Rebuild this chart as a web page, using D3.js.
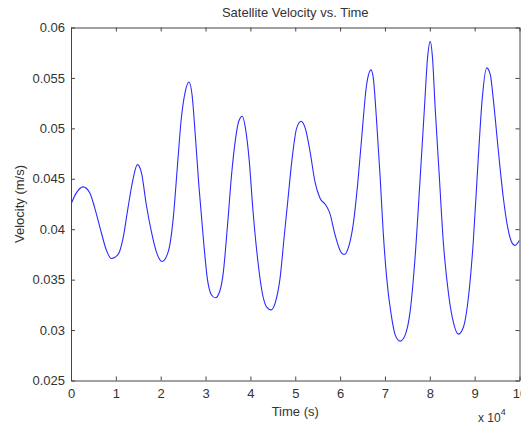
<!DOCTYPE html>
<html>
<head>
<meta charset="utf-8">
<script src="https://cdn.jsdelivr.net/npm/d3@7"></script>
<style>
  html, body { margin: 0; padding: 0; background: #fff; }
  svg { display: block; font-family: "Liberation Sans", Arial, sans-serif; }
</style>
</head>
<body>
<svg id="chart" width="521" height="425"></svg>
<script>
// time in units of 1e4 s
const timeValues = [
    0, 0.12, 0.27, 0.42, 0.53, 0.68, 0.79, 0.90, 1.05, 1.16,
    1.27, 1.38, 1.48, 1.57, 1.68, 1.79, 1.90, 2.03, 2.17, 2.28,
    2.37, 2.46, 2.55, 2.63, 2.70, 2.77, 2.85, 2.95, 3.04, 3.13,
    3.22, 3.32, 3.39, 3.49, 3.58, 3.67, 3.74, 3.82, 3.89, 3.97,
    4.06, 4.16, 4.26, 4.36, 4.46, 4.56, 4.66, 4.75, 4.84, 4.93,
    5.03, 5.13, 5.23, 5.33, 5.44, 5.55, 5.68, 5.77, 5.89, 6.00,
    6.09, 6.20, 6.29, 6.39, 6.48, 6.59, 6.69, 6.74, 6.81, 6.89,
    6.96, 7.04, 7.14, 7.23, 7.34, 7.45, 7.56, 7.67, 7.78, 7.88,
    7.95, 8.01, 8.06, 8.12, 8.21, 8.30, 8.42, 8.53, 8.64, 8.75,
    8.86, 8.97, 9.08, 9.17, 9.27, 9.35, 9.42, 9.53, 9.64, 9.74,
    9.84, 9.90, 10.0
];

// velocity (m/s)
const velocityValues = [
    0.0425, 0.0436, 0.0442, 0.0436, 0.0421, 0.0396, 0.0379, 0.0371, 0.0375, 0.0391,
    0.0421, 0.0449, 0.0464, 0.0456, 0.0424, 0.0398, 0.0378, 0.0368, 0.0378, 0.0411,
    0.0461, 0.0510, 0.0537, 0.0546, 0.0533, 0.0494, 0.0444, 0.0391, 0.0351, 0.0335,
    0.0332, 0.0339, 0.0355, 0.0404, 0.0454, 0.0490, 0.0507, 0.0512, 0.0500, 0.0470,
    0.0417, 0.0371, 0.0338, 0.0323, 0.0320, 0.0328, 0.0351, 0.0391, 0.0431, 0.0470,
    0.0500, 0.0507, 0.0499, 0.0477, 0.0447, 0.0431, 0.0424, 0.0416, 0.0394, 0.0379,
    0.0375, 0.0384, 0.0404, 0.0444, 0.0490, 0.0543, 0.0558, 0.0550, 0.0510, 0.0454,
    0.0398, 0.0351, 0.0315, 0.0295, 0.0289, 0.0295, 0.0318, 0.0371, 0.0447, 0.0520,
    0.0570, 0.0586, 0.0570, 0.0520, 0.0454, 0.0388, 0.0335, 0.0307, 0.0296, 0.0303,
    0.0332, 0.0388, 0.0470, 0.0530, 0.0560, 0.0553, 0.0527, 0.0477, 0.0431, 0.0401,
    0.0386, 0.0384, 0.0389
];

const xTicks = [0, 1, 2, 3, 4, 5, 6, 7, 8, 9, 10];
const yTicks = [0.025, 0.03, 0.035, 0.04, 0.045, 0.05, 0.055, 0.06];
const yTickLabels = ['0.025', '0.03', '0.035', '0.04', '0.045', '0.05', '0.055', '0.06'];

const svg = d3.select('#chart');
const margin = { top: 27.5, right: 1.5, bottom: 44.5, left: 71 };
const width = 521, height = 425;
const axisColor = '#444';
const textColor = '#333';

const x = d3.scaleLinear()
    .domain([0, 10])
    .range([margin.left, width - margin.right]);

const y = d3.scaleLinear()
    .domain([0.025, 0.06])
    .range([height - margin.bottom, margin.top]);

// clip for the line
svg.append('clipPath')
    .attr('id', 'plot-clip')
    .append('rect')
    .attr('x', margin.left)
    .attr('y', margin.top)
    .attr('width', x(10) - x(0))
    .attr('height', y(0.025) - y(0.06));

const points = timeValues.map((t, i) => [t, velocityValues[i]]);

const line = d3.line()
    .x(d => x(d[0]))
    .y(d => y(d[1]))
    .curve(d3.curveMonotoneX);

svg.append('path')
    .datum(points)
    .attr('clip-path', 'url(#plot-clip)')
    .attr('fill', 'none')
    .attr('stroke', '#2b2bff')
    .attr('stroke-width', 1.1)
    .attr('d', line);

// axes: bottom/left with labels, top/right ticks only (inward)
const tickLen = 4;

const xAxis = svg.append('g')
    .attr('transform', `translate(0, ${y(0.025)})`)
    .call(d3.axisBottom(x).tickValues(xTicks).tickSizeInner(-tickLen).tickSizeOuter(0).tickPadding(8).tickFormat(d3.format('d')));

const xAxisTop = svg.append('g')
    .attr('transform', `translate(0, ${y(0.06)})`)
    .call(d3.axisTop(x).tickValues(xTicks).tickSizeInner(-tickLen).tickSizeOuter(0).tickFormat(''));

const yAxis = svg.append('g')
    .attr('transform', `translate(${x(0)}, 0)`)
    .call(d3.axisLeft(y).tickValues(yTicks).tickSizeInner(-tickLen).tickSizeOuter(0).tickPadding(6)
        .tickFormat((d, i) => yTickLabels[i]));

const yAxisRight = svg.append('g')
    .attr('transform', `translate(${x(10)}, 0)`)
    .call(d3.axisRight(y).tickValues(yTicks).tickSizeInner(-tickLen).tickSizeOuter(0).tickFormat(''));

[xAxis, xAxisTop, yAxis, yAxisRight].forEach(g => {
    g.selectAll('.domain').attr('stroke', axisColor).attr('stroke-width', 1);
    g.selectAll('.tick line').attr('stroke', axisColor);
    g.selectAll('.tick text')
        .attr('fill', textColor)
        .style('font-size', '13px')
        .style('font-family', '"Liberation Sans", Arial, sans-serif');
});

// title and axis labels
svg.append('text')
    .attr('x', (x(0) + x(10)) / 2)
    .attr('y', 17)
    .attr('text-anchor', 'middle')
    .attr('fill', textColor)
    .style('font-size', '13px')
    .text('Satellite Velocity vs. Time');

svg.append('text')
    .attr('x', (x(0) + x(10)) / 2)
    .attr('y', 416)
    .attr('text-anchor', 'middle')
    .attr('fill', textColor)
    .style('font-size', '13px')
    .text('Time (s)');

svg.append('text')
    .attr('transform', `translate(24, ${(y(0.025) + y(0.06)) / 2}) rotate(-90)`)
    .attr('text-anchor', 'middle')
    .attr('fill', textColor)
    .style('font-size', '13px')
    .text('Velocity (m/s)');

// exponent label
const expLabel = svg.append('text')
    .attr('x', 478)
    .attr('y', 422)
    .attr('fill', textColor)
    .style('font-size', '12px');
expLabel.append('tspan').text('x 10');
expLabel.append('tspan')
    .attr('dy', -7)
    .style('font-size', '9px')
    .text('4');
</script>
</body>
</html>
